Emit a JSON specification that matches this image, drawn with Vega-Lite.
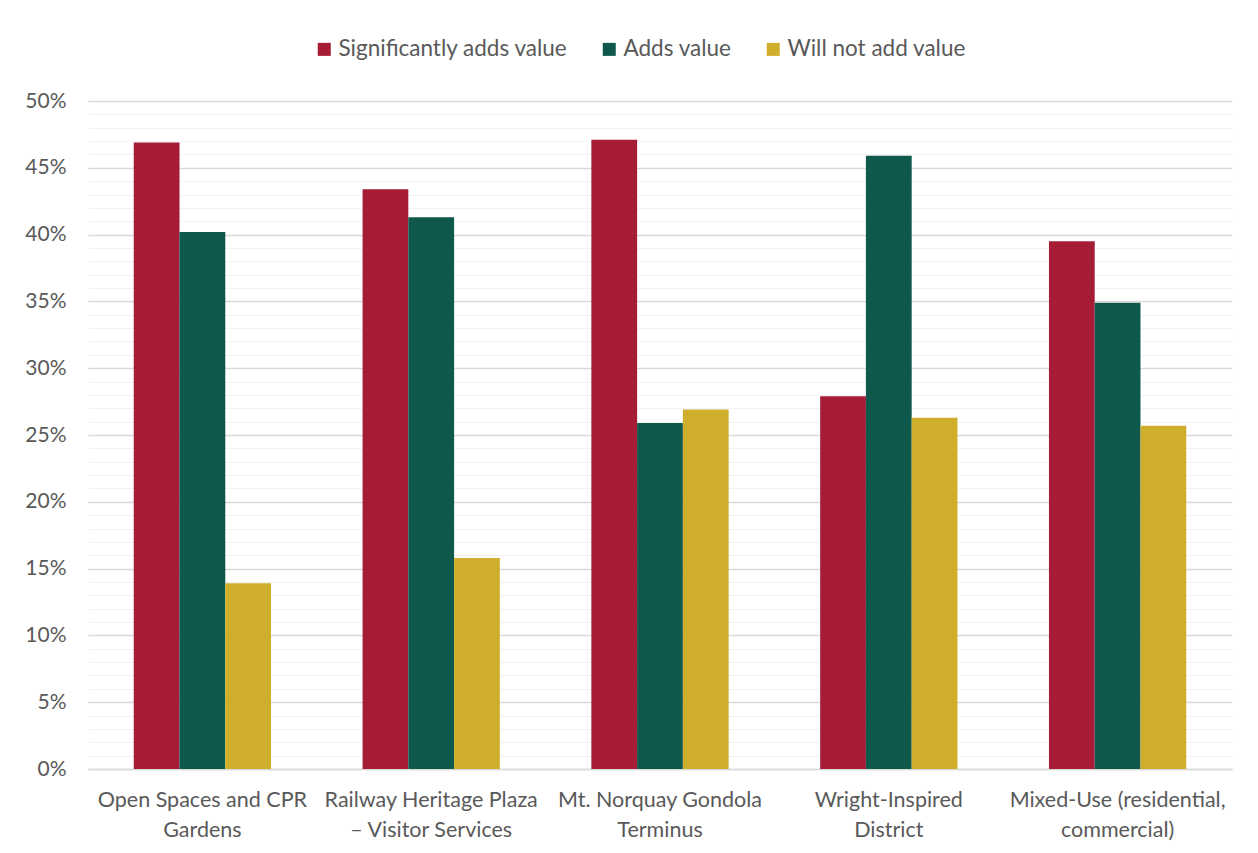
{
  "$schema": "https://vega.github.io/schema/vega-lite/v6.json",
  "autosize": "none",
  "width": 1144,
  "height": 668,
  "padding": {"left": 88, "top": 101, "right": 26, "bottom": 84},
  "background": "white",
  "config": {
    "view": {"stroke": null},
    "font": "Lato",
    "axis": {"labelFont": "Lato", "labelColor": "#595959"}
  },
  "data": {
    "values": [
      {"site": "Open Spaces and CPR|Gardens", "response": "Significantly adds value", "pct": 46.9},
      {"site": "Open Spaces and CPR|Gardens", "response": "Adds value", "pct": 40.2},
      {"site": "Open Spaces and CPR|Gardens", "response": "Will not add value", "pct": 13.9},
      {"site": "Railway Heritage Plaza|– Visitor Services", "response": "Significantly adds value", "pct": 43.4},
      {"site": "Railway Heritage Plaza|– Visitor Services", "response": "Adds value", "pct": 41.3},
      {"site": "Railway Heritage Plaza|– Visitor Services", "response": "Will not add value", "pct": 15.8},
      {"site": "Mt. Norquay Gondola|Terminus", "response": "Significantly adds value", "pct": 47.1},
      {"site": "Mt. Norquay Gondola|Terminus", "response": "Adds value", "pct": 25.9},
      {"site": "Mt. Norquay Gondola|Terminus", "response": "Will not add value", "pct": 26.9},
      {"site": "Wright-Inspired|District", "response": "Significantly adds value", "pct": 27.9},
      {"site": "Wright-Inspired|District", "response": "Adds value", "pct": 45.9},
      {"site": "Wright-Inspired|District", "response": "Will not add value", "pct": 26.3},
      {"site": "Mixed-Use (residential,|commercial)", "response": "Significantly adds value", "pct": 39.5},
      {"site": "Mixed-Use (residential,|commercial)", "response": "Adds value", "pct": 34.9},
      {"site": "Mixed-Use (residential,|commercial)", "response": "Will not add value", "pct": 25.7}
    ]
  },
  "mark": {"type": "bar"},
  "encoding": {
    "x": {
      "field": "site",
      "type": "nominal",
      "sort": null,
      "scale": {"paddingInner": 0.4, "paddingOuter": 0.2},
      "axis": {
        "title": null,
        "labelAngle": 0,
        "ticks": false,
        "domain": true,
        "domainColor": "#d9d9d9",
        "domainWidth": 1.5,
        "labelFontSize": 21.5,
        "labelPadding": 20,
        "labelLineHeight": 30,
        "labelExpr": "split(datum.label, '|')",
        "labelBaseline": "top",
        "labelLimit": 300
      }
    },
    "xOffset": {
      "field": "response",
      "type": "nominal",
      "sort": ["Significantly adds value", "Adds value", "Will not add value"],
      "scale": {"paddingInner": 0, "paddingOuter": 0}
    },
    "y": {
      "field": "pct",
      "type": "quantitative",
      "scale": {"domain": [0, 50], "nice": false},
      "axis": {
        "title": null,
        "values": [0,1,2,3,4,5,6,7,8,9,10,11,12,13,14,15,16,17,18,19,20,21,22,23,24,25,26,27,28,29,30,31,32,33,34,35,36,37,38,39,40,41,42,43,44,45,46,47,48,49,50],
        "labelExpr": "datum.value % 5 === 0 ? datum.value + '%' : ''",
        "labelOverlap": false,
        "labelFontSize": 21,
        "ticks": false,
        "domain": false,
        "labelPadding": 22,
        "gridColor": {"condition": {"test": "datum.value % 5 === 0", "value": "#d9d9d9"}, "value": "#f2f2f2"},
        "gridWidth": {"condition": {"test": "datum.value % 5 === 0", "value": 1.5}, "value": 1.2}
      }
    },
    "color": {
      "field": "response",
      "type": "nominal",
      "sort": ["Significantly adds value", "Adds value", "Will not add value"],
      "scale": {
        "domain": ["Significantly adds value", "Adds value", "Will not add value"],
        "range": ["#A61C36", "#0E584C", "#CFAE2B"]
      },
      "legend": {
        "title": null,
        "orient": "none",
        "direction": "horizontal",
        "legendX": 225,
        "legendY": -63,
        "symbolType": "square",
        "symbolSize": 169,
        "symbolStrokeWidth": 0,
        "labelFont": "Lato",
        "labelFontSize": 22.5,
        "labelColor": "#595959",
        "labelOffset": 3,
        "columnPadding": 30,
        "labelLimit": 400
      }
    }
  }
}
